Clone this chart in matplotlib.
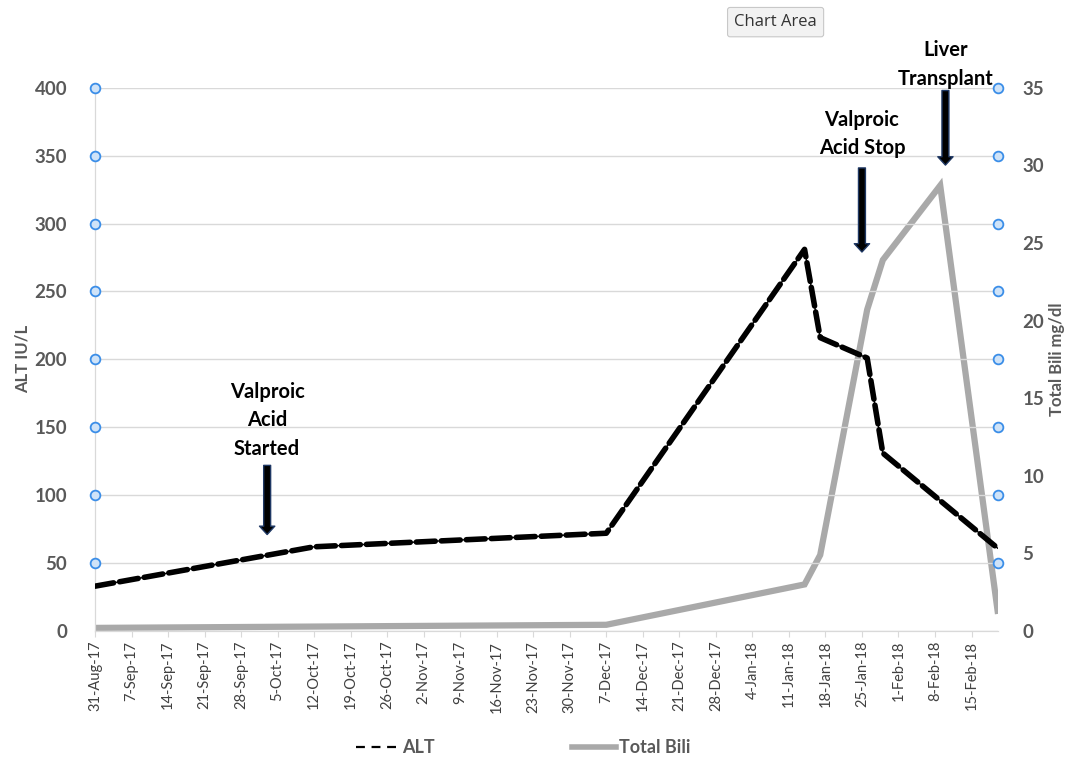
import numpy as np
import pandas as pd
import matplotlib
matplotlib.use("Agg")
import matplotlib.pyplot as plt
import matplotlib.dates as mdates
from matplotlib.lines import Line2D

plt.rcParams['font.family'] = ['Lato', 'DejaVu Sans']

# ALT values (IU/L)
alt_dates = pd.to_datetime(['2017-08-31', '2017-10-12', '2017-12-07', '2018-01-14',
                            '2018-01-17', '2018-01-26', '2018-01-29', '2018-02-20'])
alt_vals = [33, 62, 72, 281, 216, 201, 131, 61]

# Total bilirubin (mg/dl)
bili_dates = pd.to_datetime(['2017-08-31', '2017-12-07', '2018-01-14', '2018-01-17',
                             '2018-01-26', '2018-01-29', '2018-02-09', '2018-02-20'])
bili_vals = [0.2, 0.4, 3.0, 4.9, 20.7, 23.9, 28.7, 1.3]

tick_dates = pd.date_range('2017-08-31', '2018-02-15', freq='7D')
alt_ticks = np.arange(0, 401, 50)
bili_ticks = np.arange(0, 36, 5)

# annotations: (text, date, arrow top, arrow bottom, text y) on ALT scale
events = [
    ("Valproic\nAcid\nStarted", '2017-10-03', 124, 69, 155),
    ("Valproic\nAcid Stop", '2018-01-25', 343, 277, 366),
    ("Liver\nTransplant", '2018-02-10', 400, 341, 417),
]

grey = '#595959'
fig = plt.figure(figsize=(10.72, 7.63), dpi=100)
ax = fig.add_axes([0.0886, 0.173, 0.842, 0.712])
ax2 = ax.twinx()

ax.set_ylim(0, 400)
ax2.set_ylim(0, 35)
ax.set_xlim(pd.Timestamp('2017-08-31'), pd.Timestamp('2018-02-20'))

ax.set_yticks(alt_ticks)
ax2.set_yticks(bili_ticks)
ax.yaxis.grid(True, color='#d9d9d9', lw=1)
ax.set_axisbelow(True)

ax.set_xticks(tick_dates)
ax.set_xticklabels([f"{d.day}-{d.strftime('%b-%y')}" for d in tick_dates],
                   rotation=90, fontsize=10.5, color='#404040')
ax.tick_params(axis='x', length=4, color='#d9d9d9', pad=3)
ax.tick_params(axis='y', length=0, pad=20, labelsize=13.5, labelcolor=grey)
ax2.tick_params(axis='y', length=0, pad=18, labelsize=13.5, labelcolor=grey)
for lab in ax.get_yticklabels() + ax2.get_yticklabels():
    lab.set_fontweight('bold')

for a in (ax, ax2):
    for s in ['top', 'right']:
        a.spines[s].set_visible(False)
    a.spines['left'].set_color('#d9d9d9')
    a.spines['bottom'].set_color('#d9d9d9')

ax.set_ylabel('ALT IU/L', fontsize=12, fontweight='bold', color=grey, labelpad=3)
ax2.set_ylabel('Total Bili mg/dl', fontsize=12, fontweight='bold', color=grey, labelpad=3)

# lines
ax2.plot(bili_dates, bili_vals, color='#a9a9a9', lw=4.5, solid_joinstyle='miter',
         label='Total Bili')
ax.plot(alt_dates, alt_vals, color='black', lw=1, zorder=3)
ax.plot(alt_dates, alt_vals, color='black', lw=4, dashes=(3.4, 1.1),
        dash_capstyle='round', zorder=3, label='ALT')
ax.set_zorder(ax2.get_zorder() + 1)
ax.patch.set_visible(False)

# selection handles on the grid ends
xl = ax.get_xlim()
for xv in xl:
    ax.plot([xv] * 8, alt_ticks[1:], 'o', ms=7, mfc='#cfe3f8', mec='#3b8ee8',
            mew=1.3, clip_on=False, zorder=5)

# event arrows
for txt, d, y0, y1, ty in events:
    x = mdates.date2num(pd.Timestamp(d))
    ax.annotate('', xy=(x, y1), xytext=(x, y0),
                arrowprops=dict(arrowstyle='simple,head_width=1.1,head_length=0.6,tail_width=0.5',
                                fc='black', ec='#1f3864', lw=1),
                annotation_clip=False)
    ax.text(x, ty, txt, ha='center', va='center', fontsize=14.5, fontweight='bold',
            color='black', linespacing=1.55, clip_on=False)

# legend
lh1 = Line2D([], [], color='black', lw=1.6, dashes=(4, 3))
lh2 = Line2D([], [], color='#a9a9a9', lw=4)
leg = fig.legend([lh1, lh2], ['ALT', 'Total Bili'], loc='lower center', ncol=2,
                 bbox_to_anchor=(0.488, -0.012), frameon=False, columnspacing=7.6,
                 handlelength=2.4, handletextpad=0.2, prop={'weight': 'bold', 'size': 13})
for t in leg.get_texts():
    t.set_color(grey)

# "Chart Area" tooltip
fig.text(0.7235, 0.971, 'Chart Area', fontsize=12, color='#333333', ha='center', va='center',
         family=['Open Sans', 'DejaVu Sans'],
         bbox=dict(boxstyle='round,pad=0.4,rounding_size=0.15', fc='#f2f2f2', ec='#c8c8c8', lw=0.8))

fig.savefig('out.png', dpi=100)
